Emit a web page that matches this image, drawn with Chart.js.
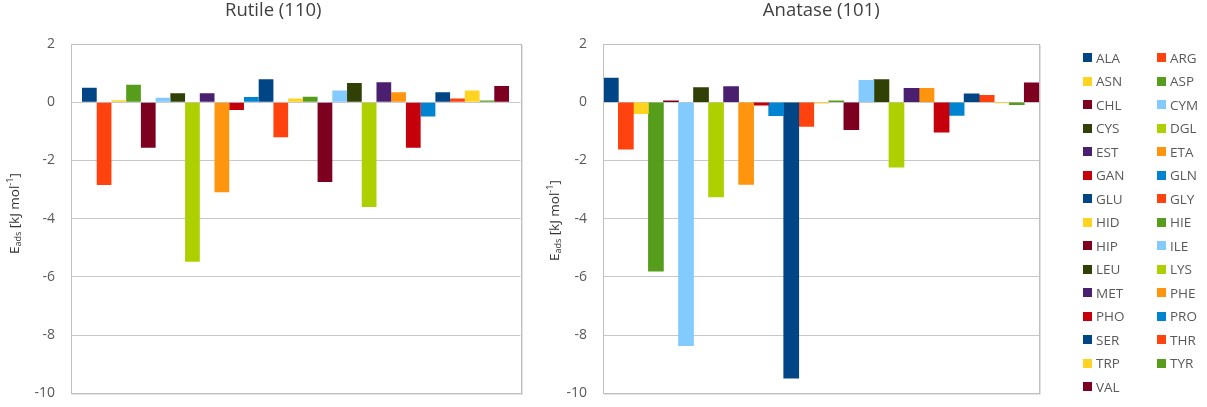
<!DOCTYPE html>
<html>
<head>
<meta charset="utf-8">
<title>Adsorption energies</title>
<script src="https://cdn.jsdelivr.net/npm/chart.js"></script>
<style>
    body { margin: 0; background: #fff; width: 1207px; height: 407px; overflow: hidden; position: relative; font-family: "Open Sans", sans-serif; }
    #rutile { position: absolute; left: 0; top: 0; }
    #anatase { position: absolute; left: 546px; top: 0; }
    #legend { position: absolute; left: 1083px; top: 46px; display: grid; grid-template-columns: 74px 60px; }
    .item { height: 23.5px; display: flex; align-items: center; font-size: 13.5px; color: #595959; }
    .swatch { width: 9px; height: 9px; margin-right: 4px; flex: none; }
</style>
</head>
<body>
<canvas id="rutile" width="546" height="407"></canvas>
<canvas id="anatase" width="554" height="407"></canvas>
<div id="legend"></div>
<script>
    const residues = ['ALA', 'ARG', 'ASN', 'ASP', 'CHL', 'CYM', 'CYS', 'DGL', 'EST', 'ETA',
        'GAN', 'GLN', 'GLU', 'GLY', 'HID', 'HIE', 'HIP', 'ILE', 'LEU', 'LYS',
        'MET', 'PHE', 'PHO', 'PRO', 'SER', 'THR', 'TRP', 'TYR', 'VAL'];

    const rutile_values = [0.50, -2.84, 0.07, 0.60, -1.56, 0.15, 0.31, -5.48, 0.31, -3.09,
        -0.27, 0.18, 0.79, -1.20, 0.13, 0.19, -2.74, 0.40, 0.66, -3.60,
        0.69, 0.34, -1.56, -0.49, 0.34, 0.13, 0.40, 0.06, 0.56];

    const anatase_values = [0.83, -1.61, -0.39, -5.80, 0.05, -8.36, 0.50, -3.25, 0.54, -2.82,
        -0.10, -0.46, -9.48, -0.83, -0.03, 0.05, -0.94, 0.75, 0.78, -2.23,
        0.48, 0.48, -1.03, -0.45, 0.29, 0.24, -0.02, -0.08, 0.67];

    const y_min = -10;
    const y_max = 2;
    const y_step = 2;

    // LibreOffice default chart palette, repeats every 12 series
    const palette = ['#004586', '#ff420e', '#ffd320', '#579d1c', '#7e0021', '#83caff',
        '#314004', '#aecf00', '#4b1f6f', '#ff950e', '#c5000b', '#0084d1'];

    // box round the plot area
    const frame = {
        id: 'frame',
        afterDraw(chart) {
            const a = chart.chartArea;
            const ctx = chart.ctx;
            ctx.save();
            ctx.strokeStyle = '#e2e2e2';
            ctx.lineWidth = 1;
            ctx.beginPath();
            ctx.moveTo(Math.round(a.right) + 1.5, a.top + 1);
            ctx.lineTo(Math.round(a.right) + 1.5, Math.round(a.bottom) + 1.5);
            ctx.lineTo(a.left + 1, Math.round(a.bottom) + 1.5);
            ctx.stroke();
            ctx.strokeStyle = '#bfbfbf';
            ctx.strokeRect(Math.round(a.left) + 0.5, Math.round(a.top) + 0.5,
                Math.round(a.right - a.left), Math.round(a.bottom - a.top));
            ctx.restore();
        }
    };

    // y axis title with subscript and superscript
    const yTitle = {
        id: 'yTitle',
        afterDraw(chart, args, opts) {
            const a = chart.chartArea;
            const ctx = chart.ctx;
            const parts = [
                {t: 'E', size: 13.5, dy: 0},
                {t: 'ads', size: 9, dy: 3},
                {t: ' [kJ mol', size: 13.5, dy: 0},
                {t: '-1', size: 9, dy: -5},
                {t: ']', size: 13.5, dy: 0}
            ];
            ctx.save();
            ctx.fillStyle = '#333333';
            ctx.textBaseline = 'middle';
            let total = 0;
            parts.forEach(p => {
                ctx.font = p.size + 'px "Open Sans"';
                p.w = ctx.measureText(p.t).width;
                total += p.w;
            });
            ctx.translate(opts.x, (a.top + a.bottom) / 2 + opts.dy);
            ctx.rotate(-Math.PI / 2);
            let x = -total / 2;
            parts.forEach(p => {
                ctx.font = p.size + 'px "Open Sans"';
                ctx.fillText(p.t, x, p.dy);
                x += p.w;
            });
            ctx.restore();
        }
    };

    function make_chart(id, title, values, cfg) {
        const data_set = {
            labels: [''],
            datasets: residues.map((name, i) => ({
                label: name,
                data: [values[i]],
                backgroundColor: palette[i % palette.length],
                borderWidth: 0
            }))
        };

        return new Chart(document.getElementById(id), {
            type: 'bar',
            data: data_set,
            options: {
                responsive: false,
                animation: false,
                layout: {padding: {top: 0, left: cfg.left_pad, right: cfg.right_pad, bottom: 13.7}},
                datasets: {bar: {categoryPercentage: cfg.cat_pct, barPercentage: 1}},
                plugins: {
                    legend: {display: false},
                    tooltip: {enabled: false},
                    title: {
                        display: true,
                        text: title,
                        fullSize: cfg.full_title,
                        color: '#404040',
                        font: {family: 'Open Sans', size: 18.5, weight: 'normal'},
                        padding: {top: 0, bottom: 21.8}
                    },
                    yTitle: {x: cfg.title_x, dy: cfg.title_dy}
                },
                scales: {
                    x: {
                        display: false
                    },
                    y: {
                        min: y_min,
                        max: y_max,
                        ticks: {
                            stepSize: y_step,
                            padding: cfg.tick_pad,
                            color: '#595959',
                            font: {family: 'Open Sans', size: 14}
                        },
                        grid: {color: '#c8c8c8', drawTicks: false},
                        border: {display: false},
                        afterFit(scale) {
                            scale.width = cfg.y_width;
                            scale.paddingTop = 0;
                            scale.paddingBottom = 0;
                        }
                    }
                }
            },
            plugins: [frame, yTitle]
        });
    }

    make_chart('rutile', 'Rutile (110)', rutile_values, {
        left_pad: 26, right_pad: 25.5, y_width: 44.5, tick_pad: 15.5,
        title_x: 15, title_dy: -5, cat_pct: 427 / 450, full_title: true
    });
    make_chart('anatase', 'Anatase (101)', anatase_values, {
        left_pad: 0, right_pad: 60.7, y_width: 57.3, tick_pad: 16.3,
        title_x: 9, title_dy: 2, cat_pct: 1, full_title: false
    });

    const legend = document.getElementById('legend');
    residues.forEach((name, i) => {
        const item = document.createElement('div');
        item.className = 'item';
        const sw = document.createElement('span');
        sw.className = 'swatch';
        sw.style.background = palette[i % palette.length];
        item.appendChild(sw);
        item.appendChild(document.createTextNode(name));
        legend.appendChild(item);
    });
</script>
</body>
</html>
